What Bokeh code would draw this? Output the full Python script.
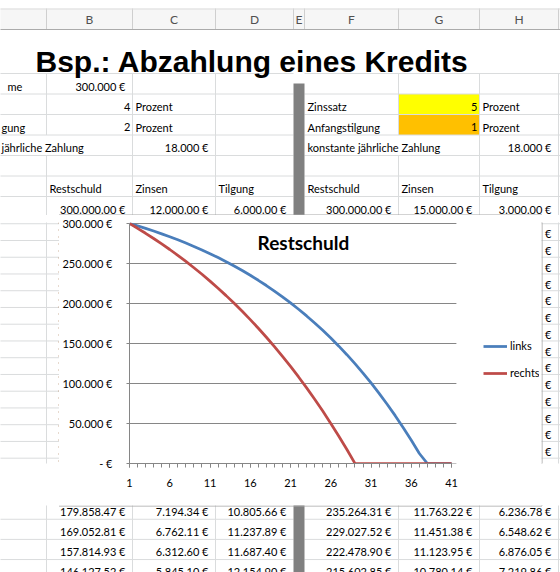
from bokeh.plotting import figure
from bokeh.models import Range1d, FixedTicker, Legend, LegendItem, Label
from bokeh.layouts import column, row
from bokeh.embed import file_html
from bokeh.resources import INLINE
from bokeh.core.properties import value

# ---------------- chart data ----------------
years = list(range(1, 42))
links = [300000.00, 297000.00, 293850.00, 290542.50, 287069.63, 283423.11, 279594.26,
         275573.97, 271352.67, 266920.31, 262266.32, 257379.64, 252248.62, 246861.05,
         241204.10, 235264.31, 229027.52, 222478.90, 215602.85, 208382.99, 200802.14,
         192842.24, 184484.36, 175708.57, 166494.00, 156818.70, 146659.64, 135992.62,
         124792.25, 113031.86, 100683.46, 87717.63, 74103.51, 59808.69, 44799.12,
         29039.08, 12491.03, 0, 0, 0, 0]
rechts = [300000.00, 294000.00, 287760.00, 281270.40, 274521.22, 267502.06, 260202.15,
          252610.23, 244714.64, 236503.23, 227963.36, 219081.89, 209845.17, 200238.97,
          190248.53, 179858.47, 169052.81, 157814.93, 146127.52, 133972.62, 121331.53,
          108184.79, 94512.18, 80292.67, 65504.38, 50124.55, 34129.53, 17494.71,
          194.50, 0, 0, 0, 0, 0, 0, 0, 0, 0, 0, 0, 0]
y_ticks = [0, 50000, 100000, 150000, 200000, 250000, 300000]
y_tick_labels = ["- €", "50.000 €", "100.000 €", "150.000 €", "200.000 €", "250.000 €", "300.000 €"]
x_label_ticks = years[::5]
series_names = ["links", "rechts"]
chart_title = "Restschuld"

# ---------------- spreadsheet content ----------------
sheet_title = "Bsp.: Abzahlung eines Kredits"
col_letters = ["B", "C", "D", "E", "F", "G", "H"]
left_label_parts = ["me", "", "gung", "jährliche Zahlung"]   # visible ends of column A labels
right_labels = ["Zinssatz", "Anfangstilgung", "konstante jährliche Zahlung"]
left_summe = "300.000 €"
left_params = ["4", "2"]
right_params = ["5", "1"]
unit = "Prozent"
zahlung = "18.000 €"
headers = ["Restschuld", "Zinsen", "Tilgung"]
left_first = ["300.000.00 €", "12.000.00 €", "6.000.00 €"]
right_first = ["300.000.00 €", "15.000.00 €", "3.000.00 €"]
left_rows = [["179.858.47 €", "7.194.34 €", "10.805.66 €"],
             ["169.052.81 €", "6.762.11 €", "11.237.89 €"],
             ["157.814.93 €", "6.312.60 €", "11.687.40 €"],
             ["146.127.52 €", "5.845.10 €", "12.154.90 €"]]
right_rows = [["235.264.31 €", "11.763.22 €", "6.236.78 €"],
              ["229.027.52 €", "11.451.38 €", "6.548.62 €"],
              ["222.478.90 €", "11.123.95 €", "6.876.05 €"],
              ["215.602.85 €", "10.780.14 €", "7.219.86 €"]]
first_visible_year = 16

# ---------------- layout (page pixels) ----------------
COL = {"A": (-46, 46), "B": (46, 132), "C": (132, 215), "D": (215, 293), "E": (293, 304),
       "F": (304, 398), "G": (398, 479), "H": (479, 558), "I": (558, 650)}
FONT = "Lato"
GRID = "#dadcdd"
CHART_BOX = (59, 541, 215, 505)   # left, right, top, bottom


def row_span(r):
    if r <= 8:
        top = 73 + (r - 2) * 20.5
        return top, top + 20.5
    top = 216.5 + (r - 9) * 20.15
    return top, top + 20.15


def collect_texts():
    items = []   # (x, y, text, align)

    def left(txt, col, r, pad=3, x=None):
        if txt:
            items.append((COL[col][0] + pad if x is None else x, row_span(r)[1] - 8, txt, "left"))

    def right(txt, col, r, pad=7):
        items.append((COL[col][1] - pad, row_span(r)[1] - 8, txt, "right"))

    left(left_label_parts[0], "A", 2, x=7)
    left(left_label_parts[2], "A", 4, x=1)
    left(left_label_parts[3], "A", 5, x=1)
    right(left_summe, "B", 2)
    for i, v in enumerate(left_params):
        right(v, "B", 3 + i, pad=2)
        left(unit, "C", 3 + i)
    right(zahlung, "C", 5)
    for i, lab in enumerate(right_labels):
        left(lab, "F", 3 + i)
    for i, v in enumerate(right_params):
        right(v, "G", 3 + i, pad=2)
        left(unit, "H", 3 + i)
    right(zahlung, "H", 5)
    for i, h in enumerate(headers):
        left(h, "BCD"[i], 7)
        left(h, "FGH"[i], 7)
    for i, v in enumerate(left_first):
        right(v, "BCD"[i], 8)
    for i, v in enumerate(right_first):
        right(v, "FGH"[i], 8)
    # only the euro signs of column H stay visible beside the chart
    for yr in range(2, first_visible_year):
        right("€", "H", 7 + yr)
    for j in range(len(left_rows)):
        r = 7 + first_visible_year + j
        for i in range(3):
            right(left_rows[j][i], "BCD"[i], r)
            right(right_rows[j][i], "FGH"[i], r)
    return items


TEXTS = collect_texts()


def draw_sheet(f, x0, x1, y0, y1):
    # header band
    f.quad(left=-60, right=660, top=8, bottom=29, fill_color="#f6f6f6", line_color=None)
    bounds = sorted(set([v for c in COL.values() for v in c]))
    f.segment(x0=bounds, x1=bounds, y0=[8] * len(bounds), y1=[29] * len(bounds), line_color="#cfcfcf")
    f.segment(x0=[-60], x1=[660], y0=[29], y1=[29], line_color="#ababab")
    f.segment(x0=[-60], x1=[660], y0=[8.5], y1=[8.5], line_color="#dcdcdc")
    if y0 < 29:
        f.text(x=[(COL[c][0] + COL[c][1]) / 2 for c in col_letters], y=[19] * len(col_letters),
               text=col_letters, text_align="center", text_baseline="middle", text_font=value(FONT),
               text_font_size="12px", text_color="#505050")

    # coloured input cells
    gl, gr = COL["G"]
    t3, b3 = row_span(3)
    t4, b4 = row_span(4)
    f.quad(left=gl, right=gr, top=t3, bottom=b3, fill_color="#ffff00", line_color=None)
    f.quad(left=gl, right=gr, top=t4, bottom=b4, fill_color="#ffc000", line_color=None)

    # gridlines
    hy = [73] + [row_span(r)[1] for r in range(2, 30)]
    f.segment(x0=[-60] * len(hy), x1=[COL["E"][0]] * len(hy), y0=hy, y1=hy, line_color=GRID)
    f.segment(x0=[COL["E"][1]] * len(hy), x1=[660] * len(hy), y0=hy, y1=hy, line_color=GRID)
    vx, vy0, vy1 = [], [], []
    for r in range(2, 30):
        t, b = row_span(r)
        for x in [46, 132, 215, 398, 479, 558]:
            if r == 5 and x in (46, 398):
                continue
            vx.append(x)
            vy0.append(t)
            vy1.append(b)
    f.segment(x0=vx, x1=vx, y0=vy0, y1=vy1, line_color=GRID)

    # gray separator column
    f.quad(left=COL["E"][0], right=COL["E"][1], top=83, bottom=700, fill_color="#808080", line_color=None)

    # sheet title
    if y0 < 61:
        f.text(x=[35], y=[61], text=[sheet_title], text_align="left", text_baseline="alphabetic",
               text_font=value("Liberation Sans"), text_font_style="bold", text_font_size="30px",
               text_color="#000")

    # cell texts that belong to this piece of the sheet
    sel = []
    for (x, y, t, a) in TEXTS:
        w = 6 * len(t)
        sx0, sx1 = (x, x + w) if a == "left" else (x - w, x)
        if sx1 > x0 and sx0 < x1 and y0 <= y < y1:
            sel.append((x, y, t, a))
    for a in ("left", "right"):
        pts = [s for s in sel if s[3] == a]
        if pts:
            f.text(x=[p[0] for p in pts], y=[p[1] for p in pts], text=[p[2] for p in pts],
                   text_align=a, text_baseline="middle", text_font=value(FONT),
                   text_font_size="11px", text_color="#000")

    # chart frame border
    bl, br, bt, bb = CHART_BOX
    f.segment(x0=[bl - 0.5, br + 0.5], x1=[br + 0.5, br + 0.5], y0=[bt - 0.5, bt - 0.5],
              y1=[bt - 0.5, bb + 0.5], line_color="#a6a6a6")
    f.segment(x0=[bl - 0.5], x1=[br + 0.5], y0=[bb + 0.5], y1=[bb + 0.5], line_color="#a6a6a6")
    f.segment(x0=[bl - 0.5], x1=[bl - 0.5], y0=[bt], y1=[bb], line_color="#9c6a3c", line_dash="1 6")


def sheet_fig(x0, x1, y0, y1):
    f = figure(width=x1 - x0, height=y1 - y0, x_range=Range1d(x0, x1), y_range=Range1d(y1, y0),
               x_axis_type=None, y_axis_type=None, toolbar_location=None, output_backend="svg",
               min_border=0, outline_line_color=None, background_fill_color="white",
               border_fill_color="white", margin=(0, 0, 0, 0))
    draw_sheet(f, x0, x1, y0, y1)
    return f


# ---------------- the chart ----------------
bl, br, bt, bb = CHART_BOX
frame_left, frame_right, frame_top, frame_bottom = 124, 539, 222, 463
px_per_year = 326 / 40
px_per_eur = 240 / 300000
x_end = 1 + (frame_right - frame_left) / px_per_year
y_end = 300000 + 1 / px_per_eur

chart = figure(width=br - bl, height=bb - bt, x_range=Range1d(1, x_end), y_range=Range1d(0, y_end),
               toolbar_location=None, output_backend="svg",
               min_border_left=frame_left - bl, min_border_right=br - frame_right,
               min_border_top=frame_top - bt, min_border_bottom=bb - frame_bottom,
               outline_line_color=None, background_fill_color="white", border_fill_color="white",
               margin=(0, 0, 0, 0))

chart.xgrid.visible = False
chart.ygrid.visible = False
# horizontal gridlines, limited to the plot area (x = 1 .. 41)
chart.segment(x0=[years[0]] * len(y_ticks), x1=[years[-1] + 0.6] * len(y_ticks), y0=y_ticks, y1=y_ticks,
              line_color="#868686", line_width=1)

xa = chart.xaxis[0]
xa.bounds = (years[0], years[-1])
xa.ticker = FixedTicker(ticks=x_label_ticks, minor_ticks=years)
xa.axis_line_color = "#868686"
xa.major_tick_line_color = "#868686"
xa.minor_tick_line_color = "#868686"
xa.major_tick_out = 4
xa.major_tick_in = 0
xa.minor_tick_out = 4
xa.minor_tick_in = 0
xa.major_label_standoff = 11
xa.major_label_text_font = FONT
xa.major_label_text_font_size = "11px"
xa.major_label_text_color = "#000"

ya = chart.yaxis[0]
ya.bounds = (0, 300000)
ya.ticker = FixedTicker(ticks=y_ticks)
ya.major_label_overrides = dict(zip(y_ticks, y_tick_labels))
ya.axis_line_color = "#868686"
ya.major_tick_line_color = "#868686"
ya.major_tick_out = 3
ya.major_tick_in = 0
ya.minor_tick_line_color = None
ya.major_label_standoff = 14
ya.major_label_text_font = FONT
ya.major_label_text_font_size = "11px"
ya.major_label_text_color = "#000"

r_links = chart.line(years, links, line_color="#4a7ebb", line_width=2.75)
r_rechts = chart.line(years, rechts, line_color="#be4b48", line_width=2.75)

legend = Legend(items=[LegendItem(label=series_names[0], renderers=[r_links]),
                       LegendItem(label=series_names[1], renderers=[r_rechts])],
                location=(478 - frame_left, frame_bottom - 379), orientation="vertical",
                border_line_color=None, background_fill_alpha=0, padding=0, margin=0, spacing=14,
                glyph_width=24, glyph_height=12, label_height=12, label_standoff=3,
                label_text_font=FONT, label_text_font_size="11px", label_text_color="#000")
chart.add_layout(legend)

chart.add_layout(Label(x=1 + (300 - frame_left) / px_per_year, y=(frame_bottom - 242) / px_per_eur,
                       text=chart_title, text_align="center", text_baseline="middle",
                       text_font=FONT, text_font_style="bold", text_font_size="19px", text_color="#000"))

# ---------------- assemble ----------------
top = sheet_fig(0, 560, 0, bt)
left_strip = sheet_fig(0, bl, bt, bb)
right_strip = sheet_fig(br, 560, bt, bb)
bottom = sheet_fig(0, 560, bb, 572)

layout = column(top, row(left_strip, chart, right_strip, spacing=0), bottom, spacing=0)

open("out.html", "w").write(file_html(layout, INLINE))
